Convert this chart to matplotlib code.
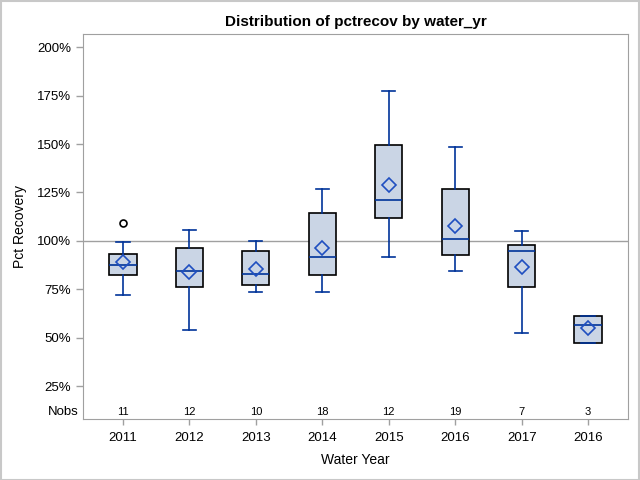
import numpy as np
import matplotlib
matplotlib.use('Agg')
import matplotlib.pyplot as plt

plt.rcParams['font.family'] = ['Liberation Sans', 'DejaVu Sans']

# box stats (percent)
years = ['2011', '2012', '2013', '2014', '2015', '2016', '2017', '2016']
nobs = [11, 12, 10, 18, 12, 19, 7, 3]
whislo = [72.0, 54.0, 73.6, 73.6, 91.6, 84.4, 52.5, 47.3]
q1 = [82.3, 76.2, 77.2, 82.3, 111.7, 92.8, 76.2, 47.3]
med = [87.5, 84.4, 82.9, 91.6, 120.9, 100.9, 94.7, 56.6]
q3 = [93.2, 96.2, 94.9, 114.3, 149.8, 126.8, 97.8, 61.2]
whishi = [99.5, 105.5, 99.8, 126.6, 177.6, 148.7, 105.0, 61.2]
means = [89.3, 84.0, 85.4, 96.2, 128.8, 107.7, 86.5, 55.1]
outliers = [[109.3], [], [], [], [], [], [], []]

blue = '#003399'
fill = '#CAD5E5'
gray = '#A0A0A0'

stats = []
for i in range(len(years)):
    stats.append(dict(label=years[i], whislo=whislo[i], q1=q1[i], med=med[i],
                      q3=q3[i], whishi=whishi[i], mean=means[i], fliers=outliers[i]))

fig = plt.figure(figsize=(6.4, 4.8), dpi=100)
ax = fig.add_axes([83/640, 60.7/480, 545/640, 385.3/480])

pos = np.arange(len(years))
ax.axhline(100, color=gray, lw=1, zorder=1)
ax.bxp(stats, positions=pos, widths=0.41, showmeans=True, patch_artist=True,
       boxprops=dict(facecolor=fill, edgecolor='black', lw=1.2),
       medianprops=dict(color=blue, lw=1.2),
       whiskerprops=dict(color=blue, lw=1.2),
       capprops=dict(color=blue, lw=1.2), capwidths=0.2,
       meanprops=dict(marker='D', markerfacecolor='none', markeredgecolor='#1F4FC0',
                      markersize=7, markeredgewidth=1.2),
       flierprops=dict(marker='o', markerfacecolor='none', markeredgecolor='black',
                       markersize=5, markeredgewidth=1.2))

for i in range(len(years)):
    ax.text(pos[i], 11.7, str(nobs[i]), ha='center', va='center', fontsize=8)
ax.text(-0.008, 11.7, 'Nobs', transform=ax.get_yaxis_transform(), ha='right', va='center', fontsize=9.5)

ax.set_xlim(-0.6, 7.6)
ax.set_ylim(7.8, 206.9)
ax.set_yticks(np.arange(25, 201, 25))
ax.set_yticklabels(['%d%%' % v for v in np.arange(25, 201, 25)])
ax.set_xticks(pos)
ax.set_xticklabels(years)
ax.tick_params(colors='black', labelsize=9.5, length=5, width=1)
ax.tick_params(axis='x', length=4.5, pad=5)
ax.tick_params(axis='both', color=gray)
for s in ax.spines.values():
    s.set_color(gray)
ax.set_xlabel('Water Year', fontsize=10, labelpad=6)
ax.set_ylabel('Pct Recovery', fontsize=10, labelpad=7)
ax.set_title('Distribution of pctrecov by water_yr', fontsize=11, fontweight='bold', pad=6)

fig.patches.append(plt.Rectangle((0.001, 0.001), 0.998, 0.997, transform=fig.transFigure,
                                 fill=False, edgecolor='#C8C8C8', lw=1.5))

fig.savefig('out.png')
